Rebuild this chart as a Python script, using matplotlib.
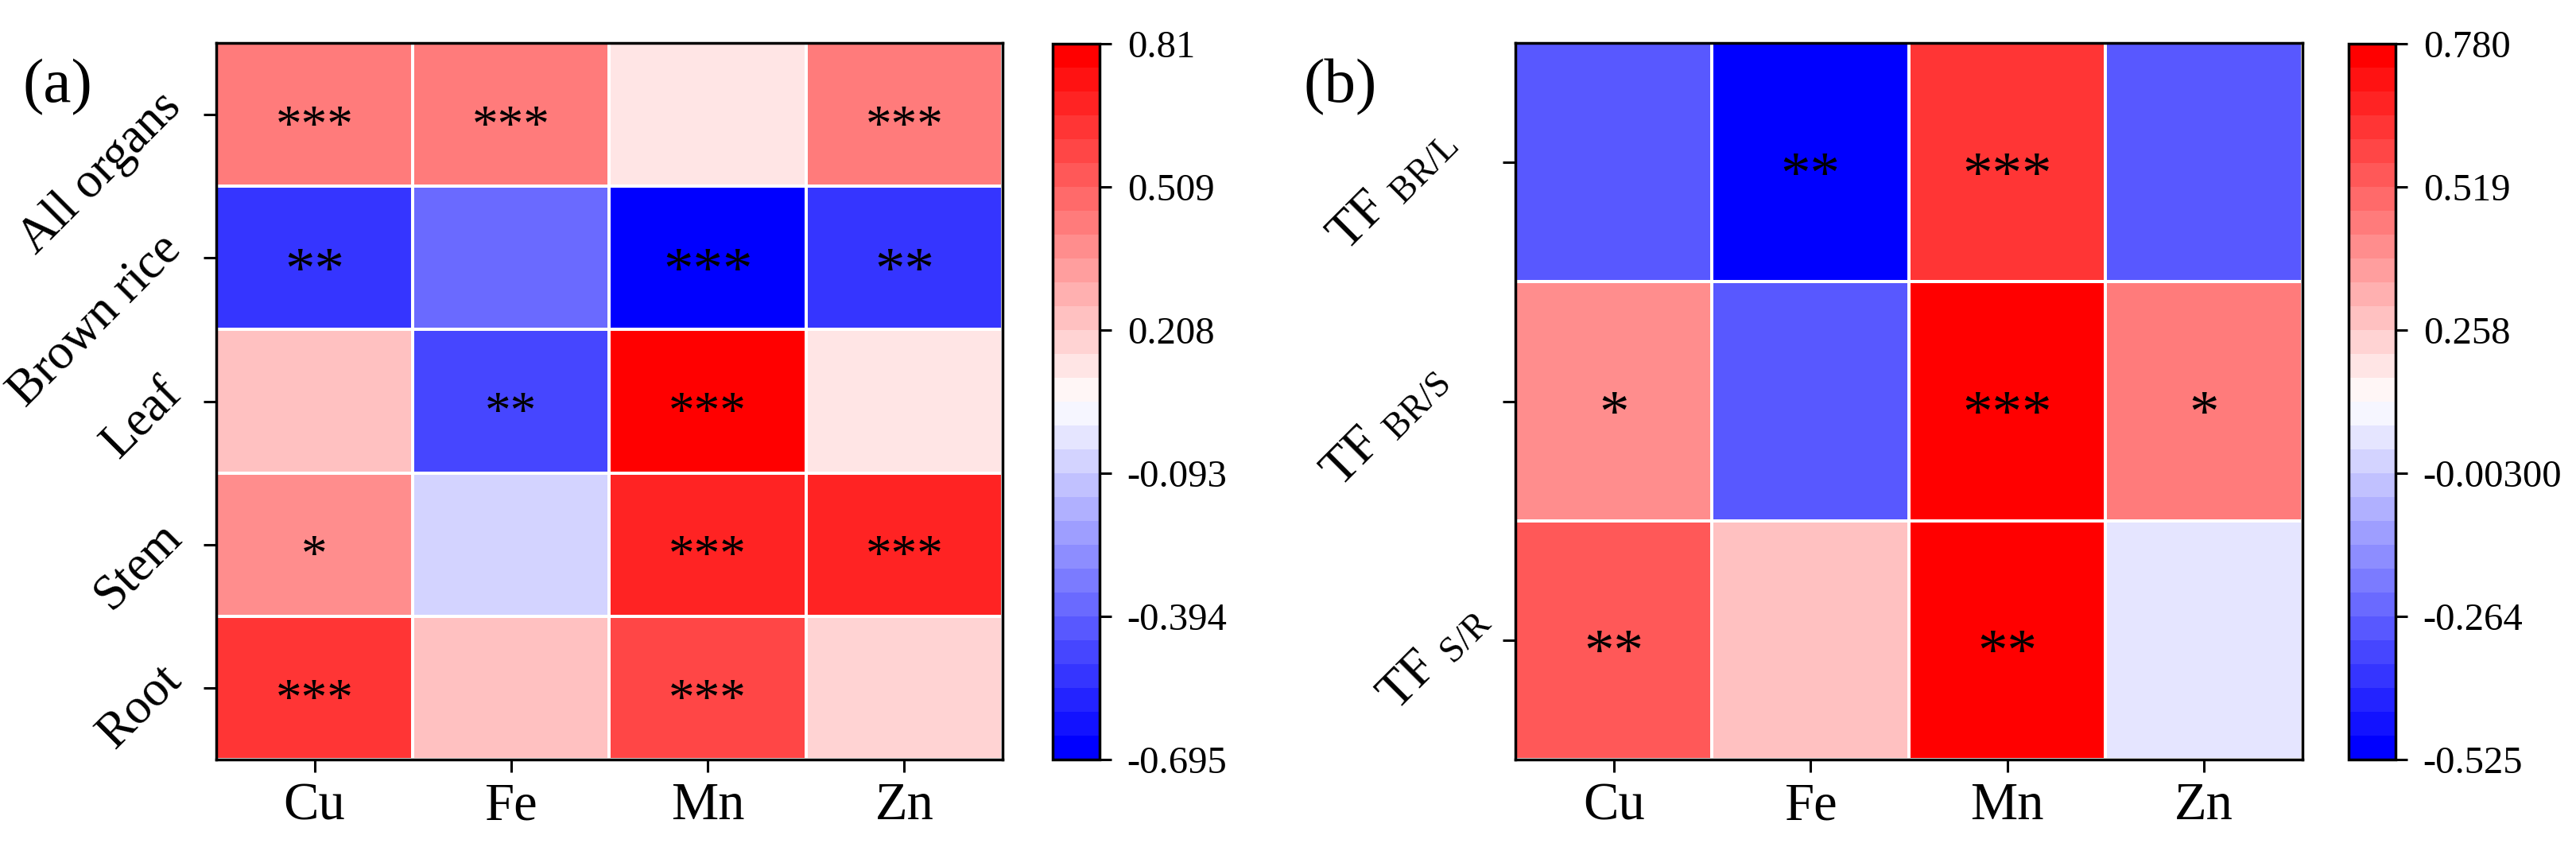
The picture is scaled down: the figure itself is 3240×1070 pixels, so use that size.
import numpy as np
import matplotlib
matplotlib.use('Agg')
import matplotlib.pyplot as plt
from matplotlib.colors import LinearSegmentedColormap
from matplotlib.transforms import ScaledTranslation

# ---------------- data ----------------
elements = ['Cu', 'Fe', 'Mn', 'Zn']

organs = ['All organs', 'Brown rice', 'Leaf', 'Stem', 'Root']
corr_a = [[0.43, 0.43, 0.13, 0.43],
          [-0.52, -0.37, -0.695, -0.52],
          [0.23, -0.47, 0.81, 0.13],
          [0.38, -0.07, 0.68, 0.68],
          [0.63, 0.23, 0.58, 0.18]]
sig_a = [['***', '***', '', '***'],
         ['**', '', '***', '**'],
         ['', '**', '***', ''],
         ['*', '', '***', '***'],
         ['***', '', '***', '']]
cbar_ticks_a = [0.81, 0.509, 0.208, -0.093, -0.394, -0.695]
cbar_labels_a = ['0.81', '0.509', '0.208', '-0.093', '-0.394', '-0.695']

tf_labels = [r'TF $_{\mathregular{BR/L}}$', r'TF $_{\mathregular{BR/S}}$', r'TF $_{\mathregular{S/R}}$']
corr_b = [[-0.29, -0.525, 0.63, -0.29],
          [0.41, -0.29, 0.78, 0.45],
          [0.54, 0.28, 0.75, 0.06]]
sig_b = [['', '**', '***', ''],
         ['*', '', '***', '*'],
         ['**', '', '**', '']]
cbar_ticks_b = [0.780, 0.519, 0.258, -0.003, -0.264, -0.525]
cbar_labels_b = ['0.780', '0.519', '0.258', '-0.00300', '-0.264', '-0.525']

# ---------------- style ----------------
plt.rcParams['font.family'] = ['Liberation Serif', 'DejaVu Serif']
plt.rcParams['mathtext.fontset'] = 'custom'
plt.rcParams['mathtext.rm'] = 'Liberation Serif'
plt.rcParams['mathtext.it'] = 'Liberation Serif:italic'
plt.rcParams['mathtext.bf'] = 'Liberation Serif:bold'

cmap = LinearSegmentedColormap.from_list('bwr_o', ['#0000ff', '#ffffff', '#ff0000']).resampled(30)

W, H = 3241, 1070
DPI = 100
fig = plt.figure(figsize=(W / DPI, H / DPI), dpi=DPI)


def box(x0, x1, y0, y1):
    return [x0 / W, 1 - y1 / H, (x1 - x0) / W, (y1 - y0) / H]


ax_a = fig.add_axes(box(272, 1261, 54, 955))
cax_a = fig.add_axes(box(1324, 1383, 55, 955))
ax_b = fig.add_axes(box(1906, 2896, 54, 955))
cax_b = fig.add_axes(box(2954, 3013, 55, 955))


def draw(ax, cax, data, sig, ticks, ticklabels, star_size_rows):
    data = np.array(data)
    nr, nc = data.shape
    vmin, vmax = min(ticks), max(ticks)
    m = ax.pcolormesh(np.arange(nc + 1), np.arange(nr + 1), data, cmap=cmap,
                      vmin=vmin, vmax=vmax, edgecolors='white', linewidth=1.6)
    ax.set_xlim(0, nc)
    ax.set_ylim(nr, 0)
    ax.set_xticks(np.arange(nc) + 0.5)
    ax.set_xticklabels(elements, fontsize=48)
    ax.set_yticks(np.arange(nr) + 0.5)
    ax.set_yticklabels([])
    ax.tick_params(axis='x', length=11.5, width=2.2, pad=9)
    ax.tick_params(axis='y', length=11.5, width=2.2)
    for s in ax.spines.values():
        s.set_linewidth(2.5)
    for i in range(nr):
        fs = star_size_rows[i]
        for j in range(nc):
            if sig[i][j]:
                ax.annotate(sig[i][j], (j + 0.5, i + 0.5), xytext=(0, -0.5 * fs),
                            textcoords='offset points', ha='center', va='baseline',
                            fontsize=fs, color='black')
    cb = fig.colorbar(m, cax=cax, ticks=ticks)
    cb.ax.set_yticklabels(ticklabels)
    cb.outline.set_linewidth(2.5)
    cax.tick_params(length=11, width=2.2, labelsize=35, pad=14)
    return nr


draw(ax_a, cax_a, corr_a, sig_a, cbar_ticks_a, cbar_labels_a, [47, 54, 47, 47, 47])
draw(ax_b, cax_b, corr_b, sig_b, cbar_ticks_b, cbar_labels_b, [54, 54, 54])

# row labels of (a): rotated 45 deg, right end of the baseline just left of the tick
tr_a = ax_a.get_yaxis_transform() + ScaledTranslation(-42 / DPI, 8 / DPI, fig.dpi_scale_trans)
for i, lab in enumerate(organs):
    ax_a.text(0, i + 0.5, lab, transform=tr_a, rotation=45, rotation_mode='anchor',
              ha='right', va='baseline', fontsize=45)

# row labels of (b): right end of main baseline, pixel offsets from left edge / row centre
tf_label_offsets = [(-76, 24), (-86, 25), (-34, 25)]
for i, lab in enumerate(tf_labels):
    dx, dy = tf_label_offsets[i]
    tr = ax_b.get_yaxis_transform() + ScaledTranslation(dx / DPI, dy / DPI, fig.dpi_scale_trans)
    ax_b.text(0, i + 0.5, lab, transform=tr, rotation=45, rotation_mode='anchor',
              ha='right', va='baseline', fontsize=47)

fig.text(29 / W, 1 - 128 / H, '(a)', fontsize=57, va='baseline', ha='left')
fig.text(1640 / W, 1 - 128 / H, '(b)', fontsize=57, va='baseline', ha='left')

fig.savefig('out.png', dpi=DPI)
